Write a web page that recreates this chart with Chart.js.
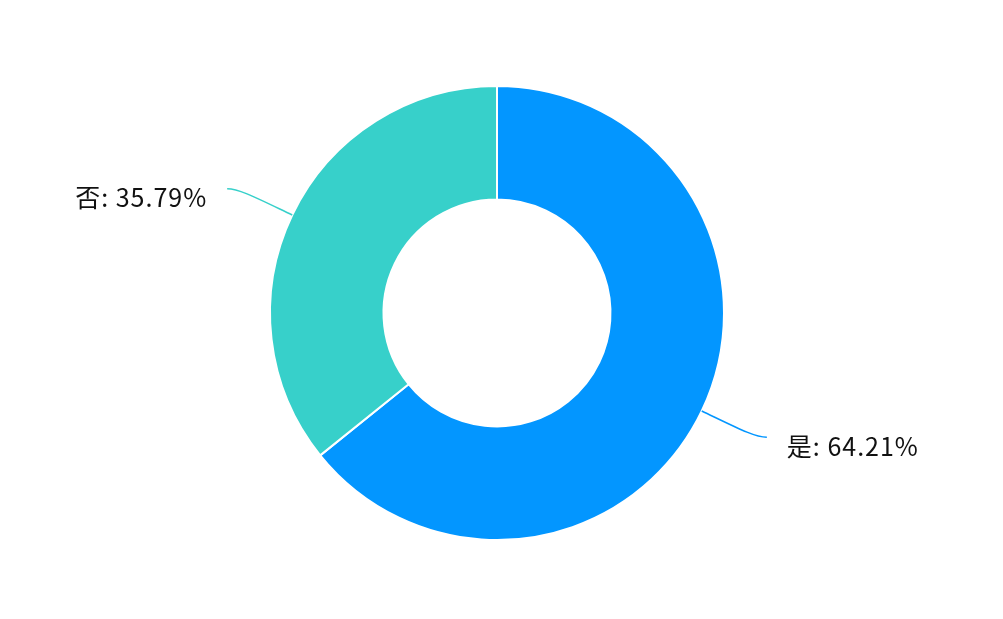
<!DOCTYPE html>
<html>
<head>
<meta charset="utf-8">
<script src="https://cdn.jsdelivr.net/npm/chart.js@4/dist/chart.umd.min.js"></script>
<style>
  html, body { margin: 0; padding: 0; background: #fff; }
  #wrap { width: 1003px; height: 619px; position: relative; }
</style>
</head>
<body>
<div id="wrap"><canvas id="pieChart"></canvas></div>
<script>
const labels = ["是", "否"];
const values = [64.21, 35.79];
const colors = ["#0396FF", "#37D0CA"];

const pieLabelPlugin = {
  id: "pieLabels",
  afterDraw(chart) {
    const { ctx } = chart;
    const meta = chart.getDatasetMeta(0);
    ctx.save();
    meta.data.forEach((arc, i) => {
      const { x, y, startAngle, endAngle, outerRadius } = arc.getProps(
        ["x", "y", "startAngle", "endAngle", "outerRadius"], true);
      const mid = (startAngle + endAngle) / 2;
      const cos = Math.cos(mid);
      const sin = Math.sin(mid);
      const dir = cos >= 0 ? 1 : -1;
      const vdir = sin >= 0 ? 1 : -1;

      const p0 = { x: x + cos * outerRadius, y: y + sin * outerRadius };
      const p1 = { x: x + cos * (outerRadius + 40), y: y + sin * (outerRadius + 40) };
      const p2 = { x: p1.x + dir * 29, y: p1.y + vdir * 9 };

      ctx.beginPath();
      ctx.strokeStyle = colors[i];
      ctx.lineWidth = 1.5;
      ctx.moveTo(p0.x, p0.y);
      ctx.bezierCurveTo(p1.x, p1.y, p2.x - dir * 12, p2.y, p2.x, p2.y);
      ctx.stroke();

      ctx.fillStyle = "#111";
      ctx.font = '25px "Noto Sans CJK SC", "Noto Sans", sans-serif';
      ctx.letterSpacing = "1px";
      ctx.textBaseline = "middle";
      ctx.textAlign = dir > 0 ? "left" : "right";
      const pct = values[i].toFixed(2) + "%";
      ctx.fillText(`${labels[i]}: ${pct}`, p2.x + dir * 20, p2.y + 9);
    });
    ctx.restore();
  }
};

new Chart(document.getElementById("pieChart"), {
  type: "doughnut",
  data: {
    labels,
    datasets: [
      {
        data: values,
        backgroundColor: colors,
        borderColor: "#ffffff",
        borderWidth: 2
      }
    ]
  },
  options: {
    responsive: true,
    maintainAspectRatio: false,
    animation: false,
    cutout: "50%",
    layout: {
      padding: { top: 85, bottom: 78, left: 269, right: 278 }
    },
    plugins: {
      legend: { display: false },
      tooltip: { enabled: false }
    }
  },
  plugins: [pieLabelPlugin]
});
</script>
</body>
</html>
